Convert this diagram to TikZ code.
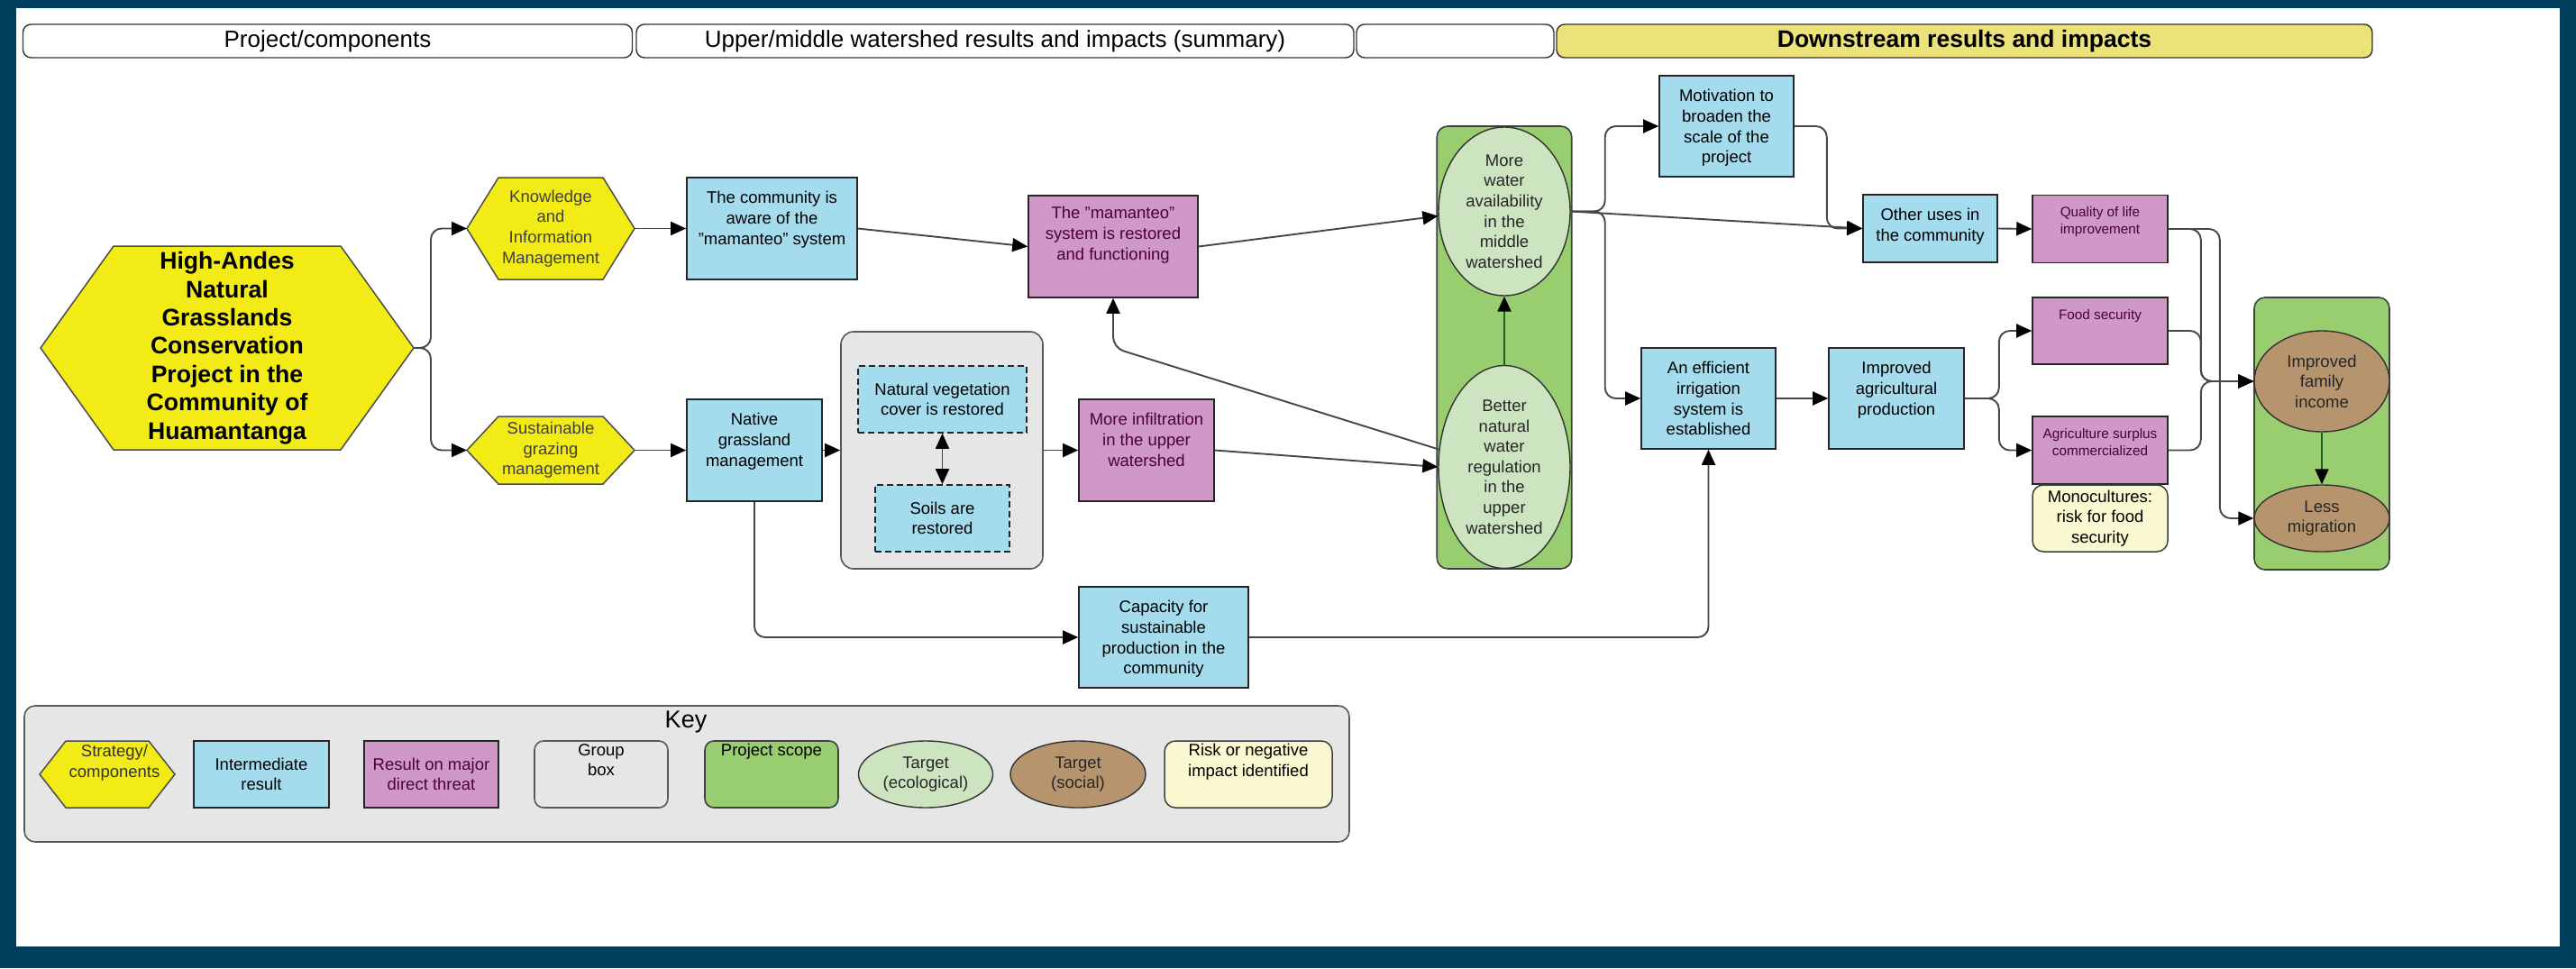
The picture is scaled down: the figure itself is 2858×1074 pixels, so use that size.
\documentclass[tikz,border=0pt]{standalone}
\usepackage{fontspec}
\setmainfont{Liberation Sans}
\usetikzlibrary{shapes.geometric,arrows.meta,calc}

\definecolor{frame}{RGB}{0,62,94}
\definecolor{stratyellow}{RGB}{242,235,22}
\definecolor{hdryellow}{RGB}{236,226,122}
\definecolor{resblue}{RGB}{164,220,238}
\definecolor{threatpink}{RGB}{208,152,198}
\definecolor{threattext}{RGB}{75,0,55}
\definecolor{groupgray}{RGB}{230,230,230}
\definecolor{scopegreen}{RGB}{152,205,112}
\definecolor{ecogreen}{RGB}{205,228,192}
\definecolor{socbrown}{RGB}{181,148,110}
\definecolor{riskyellow}{RGB}{250,248,208}
\definecolor{scopeline}{RGB}{30,100,30}

\pgfdeclarelayer{back}
\pgfdeclarelayer{background}
\pgfsetlayers{back,background,main}

\tikzset{
  hdr/.style={draw=black!80, line width=1.4pt, rounded corners=9pt, fill=white, minimum height=37, inner sep=0pt, font=\fontsize{26}{30}\selectfont},
  strat/.style={rectangle, inner sep=0pt, outer sep=0pt, align=center, text=black!75, font=\fontsize{18.5}{22.6}\selectfont},
  hexfill/.style={fill=stratyellow, draw=black!70, line width=1.5pt},
  interm/.style={rectangle, draw=black!85, line width=1.6pt, fill=resblue, inner sep=0pt, align=center, font=\fontsize{18.5}{22.6}\selectfont},
  threat/.style={interm, fill=threatpink, text=threattext},
  dashbox/.style={interm, dash pattern=on 7pt off 4pt},
  groupbox/.style={draw=black!65, line width=1.6pt, fill=groupgray, rounded corners=14pt},
  scopebox/.style={draw=black!75, line width=1.6pt, fill=scopegreen, rounded corners=12pt},
  ecotarget/.style={ellipse, draw=black!80, line width=1.4pt, fill=ecogreen, inner sep=0pt, align=center, text=black!85, font=\fontsize{18.5}{22.6}\selectfont},
  soctarget/.style={ecotarget, fill=socbrown},
  riskbox/.style={draw=black!75, line width=1.5pt, fill=riskyellow, rounded corners=12pt, inner sep=0pt, align=center, font=\fontsize{18.5}{22.6}\selectfont},
  toptxt/.style={anchor=north, align=center, inner sep=0pt, yshift=-16pt, font=\fontsize{18.5}{22.6}\selectfont},
  threattop/.style={toptxt, text=threattext},
  topsmall/.style={anchor=north, align=center, inner sep=0pt, yshift=-14pt, text=threattext, font=\fontsize{15.3}{19}\selectfont},
  keytop/.style={anchor=north, align=center, inner sep=0pt, yshift=-4pt, font=\fontsize{18.5}{22.6}\selectfont},
  flecha/.style={draw=black!72, line width=1.9pt, rounded corners=12pt, -{Triangle[length=17pt,width=15pt,color=black]}},
  dflecha/.style={flecha, {Triangle[length=17pt,width=15pt,color=black]}-{Triangle[length=17pt,width=15pt,color=black]}},
  inscope/.style={flecha, draw=scopeline},
}

\begin{document}
\begin{tikzpicture}[x=1pt, y=-1pt]
  \useasboundingbox (0,0) rectangle (2858,1074);
  \begin{pgfonlayer}{back}
    \fill[frame] (0,0) rectangle (2858,1074);
    \fill[white] (18,9) rectangle (2840,1050);
    \node[groupbox, rounded corners=12pt, minimum width=1470, minimum height=151] (keybox) at (762,858.5) {};
  \end{pgfonlayer}

  % column headers
  \node[hdr, minimum width=676] (hdrA) at (363.5,45.5) {Project/components};
  \node[hdr, minimum width=796] (hdrB) at (1104,45.5) {Upper/middle watershed results and impacts (summary)};
  \node[hdr, minimum width=219] (hdrC) at (1614.5,45.5) {};
  \node[hdr, minimum width=905, fill=hdryellow, font=\bfseries\fontsize{26.5}{30}\selectfont] (hdrD) at (2179.5,45.5) {Downstream results and impacts};

  % strategies
  \node[strat, minimum width=414, minimum height=226, text=black, font=\bfseries\fontsize{26.6}{31.4}\selectfont] (proj) at (252,386) {High-Andes\\Natural\\Grasslands\\Conservation\\Project in the\\Community of\\Huamantanga};
  \node[strat, minimum width=186, minimum height=113] (kim) at (611,253.5) {Knowledge\\and\\Information\\Management};
  \node[strat, minimum width=186, minimum height=75] (sgm) at (611,499.5) {Sustainable\\grazing\\management};

  % group box and project scopes
  \node[groupbox, minimum width=224, minimum height=263] (grp) at (1045,499.5) {};
  \node[scopebox, minimum width=149.5, minimum height=491] (scopeA) at (1669,385.5) {};
  \node[scopebox, minimum width=150, minimum height=302] (scopeB) at (2576,481) {};

  % upper/middle watershed
  \node[interm, minimum width=189, minimum height=113, label={[toptxt]north:{The community is\\aware of the\\"mamanteo" system}}] (aware) at (856.5,253.5) {};
  \node[interm, minimum width=150, minimum height=113, label={[toptxt]north:{Native\\grassland\\management}}] (native) at (837,499.5) {};
  \node[dashbox, minimum width=187, minimum height=74] (veg) at (1045.5,443) {Natural vegetation\\cover is restored};
  \node[dashbox, minimum width=149, minimum height=74] (soils) at (1045.5,575) {Soils are\\restored};
  \node[threat, minimum width=188, minimum height=113, label={[threattop, yshift=3pt]north:{The "mamanteo"\\system is restored\\and functioning}}] (mamanteo) at (1235,273.5) {};
  \node[threat, minimum width=150, minimum height=113, label={[threattop]north:{More infiltration\\in the upper\\watershed}}] (infil) at (1272,499.5) {};
  \node[interm, minimum width=188, minimum height=112, label={[toptxt]north:{Capacity for\\sustainable\\production in the\\community}}] (capac) at (1291,707) {};
  \node[ecotarget, minimum width=146, minimum height=187] (water) at (1669,234.5) {More\\water\\availability\\in the\\middle\\watershed};
  \node[ecotarget, minimum width=146, minimum height=225] (regul) at (1669,518) {Better\\natural\\water\\regulation\\in the\\upper\\watershed};

  % downstream
  \node[interm, minimum width=149, minimum height=112, label={[toptxt]north:{Motivation to\\broaden the\\scale of the\\project}}] (motiv) at (1915.5,140) {};
  \node[interm, minimum width=149, minimum height=75, label={[toptxt]north:{Other uses in\\the community}}] (other) at (2141.5,253.5) {};
  \node[interm, minimum width=149, minimum height=112, label={[toptxt]north:{An efficient\\irrigation\\system is\\established}}] (irrig) at (1895.5,442) {};
  \node[interm, minimum width=150, minimum height=112, label={[toptxt]north:{Improved\\agricultural\\production}}] (agri) at (2104,442) {};
  \node[threat, minimum width=150, minimum height=75, label={[topsmall]north:{Quality of life\\improvement}}] (quality) at (2330,254) {};
  \node[threat, minimum width=150, minimum height=74, label={[topsmall]north:{Food security}}] (food) at (2330,367) {};
  \node[threat, minimum width=150, minimum height=75, label={[topsmall]north:{Agriculture surplus\\commercialized}}] (surplus) at (2330,499.5) {};
  \node[riskbox, minimum width=150, minimum height=74] (mono) at (2330,575) {Monocultures:\\risk for food\\security};
  \node[soctarget, minimum width=150, minimum height=112] (income) at (2576,423) {Improved\\family\\income};
  \node[soctarget, minimum width=150, minimum height=74] (migr) at (2576,575) {Less\\migration};

  % key
  \node[inner sep=0pt, font=\fontsize{27}{30}\selectfont] (keytitle) at (761,801) {Key};
  \node[strat, minimum width=150, minimum height=74, label={[keytop, xshift=8pt, text=black!80]north:{Strategy/\\components}}] (k1) at (119,859) {};
  \node[interm, minimum width=150, minimum height=74] (k2) at (290,859) {Intermediate\\result};
  \node[threat, minimum width=149, minimum height=74] (k3) at (478.5,859) {Result on major\\direct threat};
  \node[groupbox, rounded corners=10pt, minimum width=148, minimum height=74, label={[keytop]north:{Group\\box}}] (k4) at (667,859) {};
  \node[scopebox, rounded corners=10pt, minimum width=148, minimum height=74, label={[keytop]north:{Project scope}}] (k5) at (856,859) {};
  \node[ecotarget, minimum width=149, minimum height=74] (k6) at (1027,859) {Target\\(ecological)};
  \node[soctarget, minimum width=150, minimum height=74] (k7) at (1196,859) {Target\\(social)};
  \node[riskbox, minimum width=186, minimum height=74, label={[keytop]north:{Risk or negative\\impact identified}}] (k8) at (1385,859) {};

  % hexagons behind the strategy texts
  \begin{pgfonlayer}{background}
    \foreach \n/\d in {proj/81,kim/35,sgm/35,k1/29}
      \draw[hexfill] (\n.west) -- ($(\n.north west)+(\d,0)$) -- ($(\n.north east)+(-\d,0)$) -- (\n.east) -- ($(\n.south east)+(-\d,0)$) -- ($(\n.south west)+(\d,0)$) -- cycle;
  \end{pgfonlayer}

  % connectors
  \draw[flecha] (proj.east) -- ++(19,0) |- (kim.west);
  \draw[flecha] (proj.east) -- ++(19,0) |- (sgm.west);
  \draw[flecha] (kim.east) -- (aware.west);
  \draw[flecha] (sgm.east) -- (native.west);
  \draw[flecha] (aware.east) -- (mamanteo.west);
  \draw[flecha] (mamanteo.east) -- (water.184);
  \draw[flecha] (native.east) -- (grp.west);
  \draw[dflecha] (veg.south) -- (soils.north);
  \draw[flecha] (grp.east) -- (infil.west);
  \draw[flecha] (infil.east) -- (regul.west);
  \draw[flecha] (regul.165) -- ($(mamanteo.south)+(0,55)$) -- (mamanteo.south);
  \draw[inscope] (regul.north) -- (water.south);
  \draw[flecha] (native.south) |- (capac.west);
  \draw[flecha] (capac.east) -| (irrig.south);
  \draw[flecha] (water.east) -- ++(38,0) |- (motiv.west);
  \draw[flecha] (water.east) -- ++(38,0) |- (irrig.west);
  \draw[flecha] (water.east) -- (other.west);
  \draw[flecha] (motiv.east) -- ++(36,0) |- (other.west);
  \draw[flecha] (other.east) -- (quality.west);
  \draw[flecha] (irrig.east) -- (agri.west);
  \draw[flecha] (agri.east) -- ++(38,0) |- (food.west);
  \draw[flecha] (agri.east) -- ++(38,0) |- (surplus.west);
  \draw[flecha] (quality.east) -- ++(36,0) |- (income.west);
  \draw[flecha] (quality.east) -- ++(57,0) |- (migr.west);
  \draw[flecha] (food.east) -- ++(36,0) |- (income.west);
  \draw[flecha] (surplus.east) -- ++(36,0) |- (income.west);
  \draw[inscope] (income.south) -- (migr.north);
\end{tikzpicture}
\end{document}
